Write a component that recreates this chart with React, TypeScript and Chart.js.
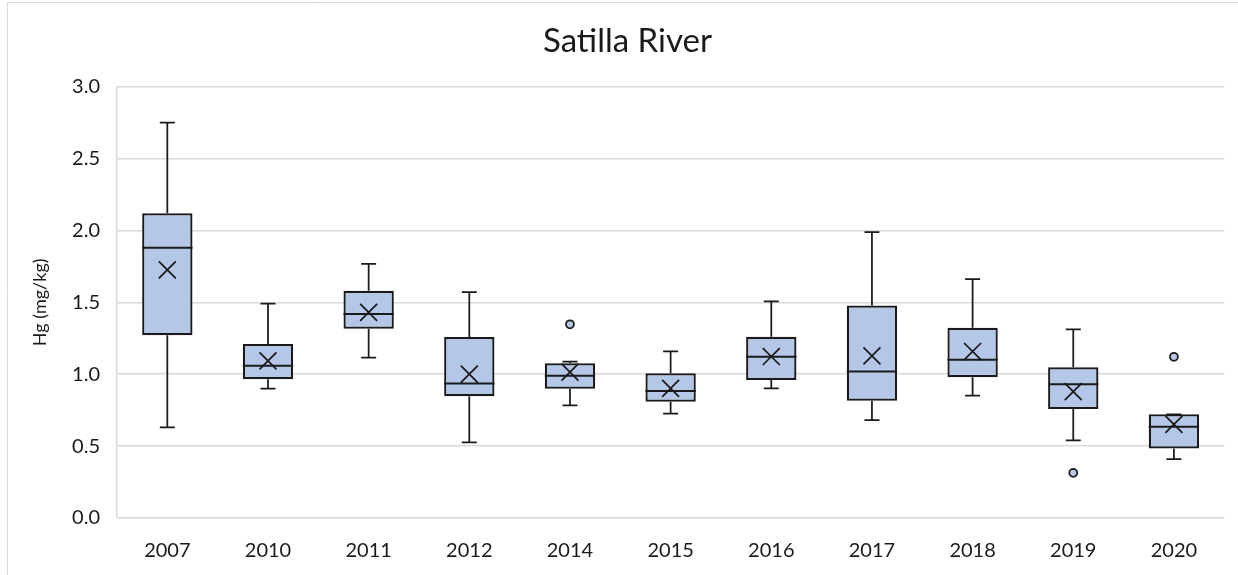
import React, { useEffect, useRef } from "react";
import { Chart, registerables } from "chart.js";

Chart.register(...registerables);

const categories = ["2007", "2010", "2011", "2012", "2014", "2015", "2016", "2017", "2018", "2019", "2020"];
const whiskerMin = [0.63, 0.9, 1.116, 0.526, 0.784, 0.726, 0.902, 0.681, 0.851, 0.54, 0.409];
const q1 = [1.27, 0.965, 1.316, 0.847, 0.898, 0.809, 0.96, 0.816, 0.979, 0.758, 0.484];
const median = [1.879, 1.058, 1.419, 0.935, 0.99, 0.884, 1.121, 1.019, 1.1, 0.93, 0.635];
const q3 = [2.12, 1.21, 1.58, 1.258, 1.077, 1.007, 1.26, 1.477, 1.323, 1.049, 0.721];
const whiskerMax = [2.75, 1.49, 1.768, 1.57, 1.088, 1.158, 1.507, 1.988, 1.661, 1.312, 0.721];
const mean = [1.726, 1.093, 1.43, 1.0, 1.014, 0.902, 1.123, 1.128, 1.158, 0.879, 0.651];
const outlierHigh = [null, null, null, null, 1.347, null, null, null, null, null, 1.121];
const outlierLow = [null, null, null, null, null, null, null, null, null, 0.314, null];
const yTicks = [0, 0.5, 1.0, 1.5, 2.0, 2.5, 3.0];

const FONT = "Lato, 'Open Sans', sans-serif";
const BOX_FILL = "#B4C7E7";
const INK = "#1a1a1a";

const boxPlugin = {
  id: "boxWhiskers",
  beforeDraw(chart: any) {
    const ctx = chart.ctx;
    ctx.save();
    ctx.strokeStyle = "#d9d9d9";
    ctx.lineWidth = 1;
    ctx.beginPath();
    ctx.moveTo(7.5, chart.height + 5);
    ctx.lineTo(7.5, 2.5);
    ctx.lineTo(chart.width + 5, 2.5);
    ctx.stroke();
    ctx.restore();
  },
  afterDatasetDraw(chart: any, args: any) {
    if (args.index !== 0) return;
    const ctx = chart.ctx;
    const xs = chart.scales.x;
    const ys = chart.scales.y;
    const meta = chart.getDatasetMeta(0);
    ctx.save();
    ctx.strokeStyle = INK;
    categories.forEach((_, i) => {
      const el = meta.data[i];
      const x = xs.getPixelForValue(i);
      const half = el.width / 2;
      const capHalf = 7.5;
      const yMin = ys.getPixelForValue(whiskerMin[i]);
      const yMax = ys.getPixelForValue(whiskerMax[i]);
      const yQ1 = ys.getPixelForValue(q1[i]);
      const yQ3 = ys.getPixelForValue(q3[i]);
      const yMed = ys.getPixelForValue(median[i]);
      ctx.lineWidth = 1.75;
      ctx.beginPath();
      ctx.moveTo(x, yQ1);
      ctx.lineTo(x, yMin);
      ctx.moveTo(x - capHalf, yMin);
      ctx.lineTo(x + capHalf, yMin);
      ctx.moveTo(x, yQ3);
      ctx.lineTo(x, yMax);
      ctx.moveTo(x - capHalf, yMax);
      ctx.lineTo(x + capHalf, yMax);
      ctx.stroke();
      ctx.lineWidth = 2;
      ctx.beginPath();
      ctx.moveTo(x - half, yMed);
      ctx.lineTo(x + half, yMed);
      ctx.stroke();
    });
    ctx.restore();
  },
};

export default function App() {
  const ref = useRef<HTMLCanvasElement | null>(null);
  useEffect(() => {
    document.body.style.margin = "0";
    if (!ref.current) return;
    const chart = new Chart(ref.current, {
      type: "bar",
      data: {
        labels: categories,
        datasets: [
          {
            type: "bar",
            label: "box",
            data: categories.map((_, i) => [q1[i], q3[i]]) as any,
            backgroundColor: BOX_FILL,
            borderColor: INK,
            borderWidth: 2.25,
            borderSkipped: false,
            barPercentage: 0.5,
            categoryPercentage: 1,
            order: 2,
          },
          {
            type: "line",
            label: "mean",
            data: mean,
            showLine: false,
            pointStyle: "crossRot",
            pointRadius: 12,
            borderColor: INK,
            borderWidth: 1.75,
            order: 0,
          } as any,
          {
            type: "line",
            label: "outliers high",
            data: outlierHigh,
            showLine: false,
            pointStyle: "circle",
            pointRadius: 4,
            backgroundColor: BOX_FILL,
            borderColor: INK,
            borderWidth: 1.75,
            order: 1,
          } as any,
          {
            type: "line",
            label: "outliers low",
            data: outlierLow,
            showLine: false,
            pointStyle: "circle",
            pointRadius: 4,
            backgroundColor: BOX_FILL,
            borderColor: INK,
            borderWidth: 1.75,
            order: 1,
          } as any,
        ],
      },
      options: {
        animation: false,
        responsive: false,
        maintainAspectRatio: false,
        layout: { padding: { left: 29, right: 12, top: 0, bottom: 0 } },
        plugins: {
          legend: { display: false },
          tooltip: { enabled: false },
          title: {
            display: true,
            text: "Satilla River",
            color: "#1a1a1a",
            font: { family: FONT, size: 33, weight: "normal" },
            padding: { top: 22, bottom: 25 },
          },
        },
        scales: {
          x: {
            grid: { display: false, drawTicks: false },
            border: { display: false },
            ticks: {
              color: "#1a1a1a",
              font: { family: FONT, size: 20 },
              padding: 21,
            },
            afterFit(scale: any) {
              scale.height = 57;
            },
          },
          y: {
            min: 0,
            max: 3,
            afterBuildTicks(scale: any) {
              scale.ticks = yTicks.map((v) => ({ value: v }));
            },
            grid: { color: "#d9d9d9", lineWidth: 1.5, drawTicks: false },
            border: { display: true, color: "#d9d9d9", width: 1.5 },
            ticks: {
              color: "#1a1a1a",
              font: { family: FONT, size: 20 },
              padding: 17,
              callback: (v: any) => Number(v).toFixed(1),
            },
            title: {
              display: true,
              text: "Hg (mg/kg)",
              color: "#1a1a1a",
              font: { family: FONT, size: 18 },
              padding: { top: 0, bottom: 0 },
            },
            afterFit(scale: any) {
              scale.width = 88;
            },
          },
        },
      },
      plugins: [boxPlugin],
    });
    return () => chart.destroy();
  }, []);
  return <canvas ref={ref} width={1238} height={575} style={{ display: "block" }} />;
}
